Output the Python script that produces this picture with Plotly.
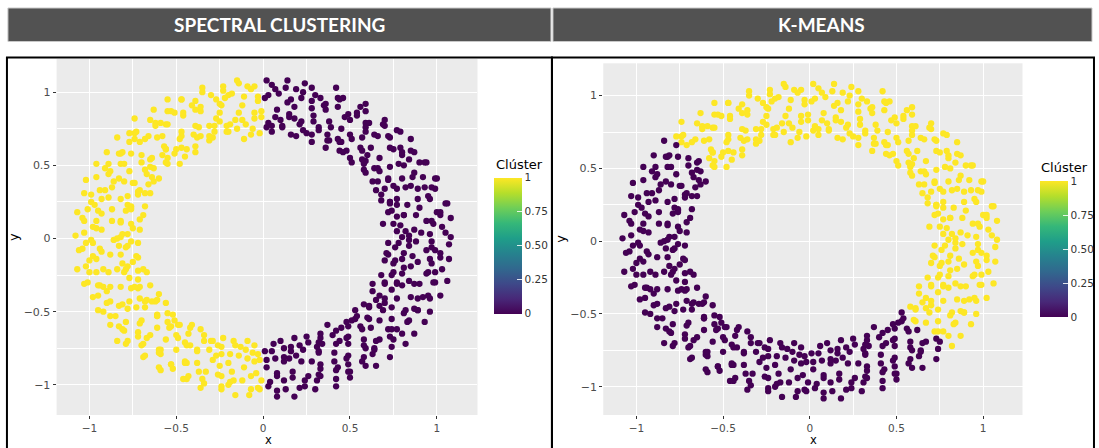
import plotly.graph_objects as go

# ---------------- data (same points in both panels) ----------------
X = [
    1.08, 0.97, 0.96, 0.84, 0.84, 0.72,
    1.05, 1.03, 0.91, 0.87, 0.80, 0.77,
    1.08, 0.98, 0.97, 0.82, 0.79, 0.75,
    1.02, 1.00, 0.94, 0.88, 0.77, 0.69,
    1.05, 1.02, 0.90, 0.81, 0.81, 0.74,
    1.06, 0.96, 0.95, 0.83, 0.73, 0.72,
    0.99, 0.97, 0.89, 0.77, 0.77, 0.73,
    0.99, 0.89, 0.93, 0.82, 0.73, 0.68,
    1.00, 0.92, 0.85, 0.77, 0.75, 0.65,
    0.93, 0.86, 0.87, 0.80, 0.70, 0.68,
    0.94, 0.90, 0.78, 0.72, 0.72, 0.63,
    0.85, 0.84, 0.81, 0.73, 0.64, 0.66,
    0.87, 0.79, 0.80, 0.66, 0.67, 0.58,
    0.85, 0.80, 0.73, 0.67, 0.58, 0.59,
    0.77, 0.73, 0.75, 0.59, 0.60, 0.58,
    0.79, 0.72, 0.64, 0.62, 0.57, 0.50,
    0.70, 0.70, 0.66, 0.56, 0.57, 0.51,
    0.69, 0.59, 0.59, 0.57, 0.48, 0.44,
    0.59, 0.61, 0.59, 0.50, 0.51, 0.46,
    0.59, 0.54, 0.50, 0.43, 0.45, 0.44,
    0.56, 0.54, 0.49, 0.45, 0.37, 0.36,
    0.46, 0.43, 0.47, 0.38, 0.38, 0.37,
    0.43, 0.44, 0.36, 0.39, 0.32, 0.28,
    0.42, 0.35, 0.36, 0.29, 0.32, 0.28,
    0.30, 0.33, 0.28, 0.29, 0.21, 0.25,
    0.28, 0.23, 0.28, 0.22, 0.23, 0.16,
    0.24, 0.22, 0.18, 0.15, 0.18, 0.19,
    0.13, 0.19, 0.16, 0.15, 0.11, 0.11,
    0.14, 0.09, 0.14, 0.08, 0.10, 0.05,
    0.05, 0.07, 0.03, 0.07, 0.05, 0.02,
    0.02, -0.03, 0.01, -0.01, 0.03, -0.02,
    -0.05, -0.07, -0.03, -0.05, -0.01, -0.06,
    -0.14, -0.09, -0.11, -0.05, -0.10, -0.07,
    -0.15, -0.20, -0.12, -0.14, -0.12, -0.15,
    -0.23, -0.18, -0.22, -0.16, -0.21, -0.11,
    -0.23, -0.27, -0.24, -0.25, -0.19, -0.20,
    -0.35, -0.30, -0.25, -0.25, -0.28, -0.21,
    -0.35, -0.39, -0.36, -0.27, -0.28, -0.31,
    -0.47, -0.39, -0.36, -0.37, -0.31, -0.29,
    -0.47, -0.41, -0.46, -0.39, -0.38, -0.31,
    -0.55, -0.51, -0.46, -0.40, -0.36, -0.39,
    -0.55, -0.53, -0.56, -0.47, -0.47, -0.39,
    -0.63, -0.62, -0.55, -0.48, -0.44, -0.47,
    -0.65, -0.59, -0.62, -0.58, -0.50, -0.45,
    -0.74, -0.66, -0.61, -0.56, -0.56, -0.51,
    -0.74, -0.73, -0.68, -0.57, -0.55, -0.48,
    -0.77, -0.71, -0.74, -0.65, -0.58, -0.56,
    -0.84, -0.77, -0.70, -0.64, -0.65, -0.55,
    -0.82, -0.83, -0.76, -0.70, -0.63, -0.64,
    -0.90, -0.81, -0.82, -0.67, -0.68, -0.60,
    -0.89, -0.91, -0.80, -0.77, -0.66, -0.63,
    -0.96, -0.88, -0.86, -0.74, -0.75, -0.68,
    -0.96, -0.89, -0.83, -0.80, -0.72, -0.65,
    -1.02, -0.94, -0.87, -0.78, -0.71, -0.72,
    -0.99, -0.91, -0.93, -0.82, -0.78, -0.68,
    -1.03, -0.99, -0.89, -0.79, -0.76, -0.76,
    -1.01, -0.97, -0.95, -0.87, -0.76, -0.71,
    -1.07, -0.96, -0.93, -0.82, -0.82, -0.69,
    -1.04, -1.03, -0.96, -0.87, -0.76, -0.75,
    -1.03, -0.98, -0.93, -0.84, -0.81, -0.71,
    -1.08, -0.99, -0.98, -0.82, -0.78, -0.76,
    -1.04, -1.02, -0.94, -0.86, -0.83, -0.72,
    -1.06, -0.96, -0.93, -0.88, -0.79, -0.78,
    -1.02, -1.00, -0.98, -0.82, -0.81, -0.72,
    -1.07, -0.96, -0.92, -0.79, -0.75, -0.73,
    -1.01, -1.00, -0.89, -0.84, -0.78, -0.69,
    -1.03, -0.94, -0.92, -0.80, -0.72, -0.72,
    -0.95, -0.95, -0.88, -0.82, -0.77, -0.67,
    -0.98, -0.88, -0.90, -0.76, -0.72, -0.71,
    -0.92, -0.90, -0.81, -0.77, -0.74, -0.65,
    -0.95, -0.85, -0.83, -0.71, -0.67, -0.60,
    -0.88, -0.88, -0.78, -0.73, -0.68, -0.64,
    -0.83, -0.80, -0.79, -0.68, -0.62, -0.61,
    -0.84, -0.81, -0.71, -0.70, -0.61, -0.56,
    -0.78, -0.72, -0.72, -0.61, -0.61, -0.52,
    -0.79, -0.70, -0.65, -0.61, -0.53, -0.55,
    -0.69, -0.69, -0.67, -0.54, -0.55, -0.49,
    -0.68, -0.59, -0.59, -0.56, -0.48, -0.51,
    -0.59, -0.60, -0.60, -0.49, -0.50, -0.42,
    -0.60, -0.53, -0.50, -0.42, -0.43, -0.41,
    -0.52, -0.53, -0.45, -0.45, -0.44, -0.34,
    -0.44, -0.44, -0.45, -0.38, -0.34, -0.36,
    -0.46, -0.43, -0.38, -0.38, -0.30, -0.29,
    -0.36, -0.33, -0.37, -0.29, -0.31, -0.23,
    -0.34, -0.35, -0.25, -0.27, -0.24, -0.26,
    -0.24, -0.24, -0.26, -0.19, -0.24, -0.17,
    -0.24, -0.20, -0.18, -0.20, -0.13, -0.16,
    -0.16, -0.19, -0.17, -0.09, -0.14, -0.09,
    -0.07, -0.12, -0.07, -0.11, -0.06, -0.10,
    -0.08, -0.03, -0.04, -0.05, -0.02, -0.05,
    -0.02, 0.03, -0.01, 0.02, -0.03, 0.01,
    0.08, 0.04, 0.08, 0.02, 0.05, 0.06,
    0.08, 0.13, 0.08, 0.12, 0.07, 0.12,
    0.18, 0.12, 0.17, 0.12, 0.16, 0.10,
    0.21, 0.24, 0.17, 0.22, 0.15, 0.16,
    0.30, 0.24, 0.26, 0.19, 0.23, 0.18,
    0.31, 0.32, 0.33, 0.28, 0.21, 0.26,
    0.42, 0.33, 0.33, 0.32, 0.32, 0.25,
    0.42, 0.43, 0.42, 0.31, 0.34, 0.32,
    0.50, 0.49, 0.41, 0.41, 0.33, 0.33,
    0.50, 0.49, 0.49, 0.42, 0.44, 0.40,
    0.59, 0.58, 0.48, 0.49, 0.42, 0.37,
    0.65, 0.57, 0.58, 0.48, 0.49, 0.45,
    0.63, 0.64, 0.59, 0.58, 0.49, 0.51,
    0.73, 0.64, 0.67, 0.56, 0.57, 0.48,
    0.74, 0.73, 0.65, 0.62, 0.53, 0.53,
    0.82, 0.75, 0.72, 0.60, 0.61, 0.54,
    0.80, 0.74, 0.77, 0.67, 0.61, 0.61,
    0.87, 0.84, 0.74, 0.67, 0.69, 0.58,
    0.93, 0.83, 0.82, 0.74, 0.65, 0.63,
    0.89, 0.89, 0.81, 0.70, 0.70, 0.67,
    0.96, 0.87, 0.89, 0.77, 0.74, 0.63,
    0.96, 0.95, 0.85, 0.80, 0.70, 0.70,
    1.02, 0.92, 0.90, 0.77, 0.77, 0.68,
    0.99, 0.98, 0.87, 0.84, 0.75, 0.74,
    1.06, 0.95, 0.94, 0.81, 0.80, 0.70,
    1.03, 0.99, 0.89, 0.85, 0.76, 0.75,
    1.07, 0.96, 0.97, 0.81, 0.80, 0.72,
    1.02, 1.02, 0.94, 0.86, 0.84, 0.71,
    1.07, 0.99, 0.97, 0.88, 0.78, 0.76,
]

Y = [
    0.01, -0.02, 0.03, -0.01, 0.02, -0.03,
    0.04, 0.08, 0.04, 0.06, 0.01, 0.05,
    0.14, 0.10, 0.12, 0.05, 0.09, 0.10,
    0.16, 0.18, 0.12, 0.16, 0.15, 0.10,
    0.24, 0.18, 0.21, 0.16, 0.16, 0.19,
    0.24, 0.27, 0.29, 0.23, 0.24, 0.18,
    0.34, 0.35, 0.27, 0.23, 0.27, 0.25,
    0.41, 0.34, 0.35, 0.35, 0.25, 0.26,
    0.41, 0.42, 0.36, 0.34, 0.36, 0.33,
    0.52, 0.42, 0.45, 0.41, 0.34, 0.30,
    0.52, 0.52, 0.51, 0.40, 0.41, 0.39,
    0.60, 0.54, 0.50, 0.49, 0.48, 0.39,
    0.59, 0.62, 0.57, 0.48, 0.46, 0.47,
    0.68, 0.59, 0.62, 0.55, 0.52, 0.45,
    0.74, 0.69, 0.61, 0.53, 0.57, 0.51,
    0.73, 0.70, 0.71, 0.62, 0.54, 0.55,
    0.81, 0.77, 0.70, 0.62, 0.60, 0.52,
    0.78, 0.79, 0.76, 0.69, 0.60, 0.60,
    0.87, 0.79, 0.73, 0.71, 0.68, 0.59,
    0.92, 0.86, 0.81, 0.68, 0.66, 0.66,
    0.90, 0.84, 0.85, 0.75, 0.71, 0.62,
    0.96, 0.90, 0.83, 0.80, 0.67, 0.67,
    0.96, 0.95, 0.88, 0.76, 0.76, 0.71,
    1.03, 0.91, 0.92, 0.80, 0.74, 0.66,
    0.98, 0.96, 0.89, 0.84, 0.78, 0.72,
    1.03, 1.00, 0.94, 0.80, 0.74, 0.71,
    1.06, 0.96, 0.90, 0.85, 0.82, 0.70,
    1.03, 1.02, 0.95, 0.83, 0.77, 0.76,
    1.08, 0.99, 0.93, 0.88, 0.81, 0.73,
    1.05, 1.02, 0.98, 0.83, 0.77, 0.76,
    1.08, 0.97, 0.96, 0.87, 0.79, 0.72,
    1.04, 1.02, 0.94, 0.82, 0.83, 0.75,
    1.06, 1.04, 0.97, 0.86, 0.78, 0.71,
    1.08, 0.98, 0.91, 0.86, 0.81, 0.75,
    1.01, 0.99, 0.96, 0.81, 0.77, 0.68,
    1.04, 0.95, 0.91, 0.86, 0.78, 0.73,
    1.00, 0.98, 0.92, 0.80, 0.73, 0.73,
    1.03, 0.94, 0.87, 0.82, 0.77, 0.67,
    0.95, 0.88, 0.90, 0.76, 0.77, 0.69,
    0.95, 0.91, 0.84, 0.77, 0.69, 0.70,
    0.95, 0.86, 0.86, 0.71, 0.70, 0.63,
    0.87, 0.87, 0.78, 0.73, 0.70, 0.59,
    0.88, 0.79, 0.78, 0.68, 0.61, 0.62,
    0.81, 0.79, 0.77, 0.70, 0.61, 0.56,
    0.82, 0.70, 0.69, 0.61, 0.61, 0.58,
    0.72, 0.73, 0.68, 0.63, 0.55, 0.51,
    0.72, 0.66, 0.68, 0.54, 0.57, 0.52,
    0.69, 0.66, 0.57, 0.55, 0.49, 0.51,
    0.58, 0.58, 0.58, 0.52, 0.48, 0.42,
    0.59, 0.59, 0.51, 0.44, 0.47, 0.41,
    0.51, 0.48, 0.51, 0.46, 0.37, 0.39,
    0.51, 0.46, 0.39, 0.38, 0.38, 0.31,
    0.42, 0.44, 0.41, 0.39, 0.32, 0.31,
    0.40, 0.33, 0.35, 0.29, 0.33, 0.30,
    0.30, 0.33, 0.27, 0.27, 0.23, 0.22,
    0.31, 0.25, 0.28, 0.19, 0.22, 0.21,
    0.20, 0.23, 0.19, 0.20, 0.20, 0.13,
    0.18, 0.12, 0.17, 0.12, 0.11, 0.16,
    0.14, 0.12, 0.07, 0.12, 0.10, 0.07,
    0.04, 0.08, 0.06, 0.00, 0.03, 0.06,
    0.02, -0.01, -0.03, 0.01, 0.03, -0.02,
    -0.07, -0.03, -0.07, -0.01, -0.05, -0.03,
    -0.08, -0.14, -0.09, -0.11, -0.06, -0.05,
    -0.19, -0.15, -0.12, -0.11, -0.17, -0.13,
    -0.21, -0.23, -0.21, -0.21, -0.16, -0.12,
    -0.30, -0.23, -0.23, -0.21, -0.19, -0.21,
    -0.31, -0.32, -0.33, -0.23, -0.28, -0.22,
    -0.39, -0.32, -0.33, -0.33, -0.27, -0.23,
    -0.40, -0.43, -0.36, -0.34, -0.34, -0.33,
    -0.50, -0.44, -0.45, -0.43, -0.33, -0.32,
    -0.49, -0.53, -0.46, -0.41, -0.42, -0.38,
    -0.59, -0.53, -0.48, -0.47, -0.43, -0.43,
    -0.60, -0.63, -0.57, -0.47, -0.43, -0.42,
    -0.70, -0.62, -0.58, -0.56, -0.52, -0.44,
    -0.70, -0.64, -0.67, -0.53, -0.53, -0.52,
    -0.72, -0.73, -0.66, -0.61, -0.60, -0.51,
    -0.81, -0.72, -0.68, -0.61, -0.57, -0.59,
    -0.80, -0.79, -0.76, -0.69, -0.59, -0.56,
    -0.90, -0.78, -0.76, -0.68, -0.66, -0.61,
    -0.88, -0.86, -0.76, -0.73, -0.65, -0.59,
    -0.89, -0.86, -0.85, -0.71, -0.73, -0.66,
    -0.96, -0.85, -0.84, -0.77, -0.70, -0.62,
    -0.96, -0.94, -0.85, -0.76, -0.70, -0.70,
    -1.02, -0.91, -0.91, -0.83, -0.76, -0.68,
    -0.99, -0.96, -0.87, -0.80, -0.74, -0.73,
    -1.03, -0.94, -0.93, -0.79, -0.79, -0.70,
    -1.01, -1.00, -0.91, -0.85, -0.74, -0.73,
    -1.07, -0.98, -0.97, -0.82, -0.80, -0.70,
    -1.03, -0.97, -0.94, -0.88, -0.78, -0.76,
    -1.07, -1.02, -0.92, -0.84, -0.83, -0.73,
    -1.03, -1.01, -0.97, -0.83, -0.79, -0.77,
    -1.08, -0.98, -0.94, -0.88, -0.77, -0.72,
    -1.04, -1.03, -0.92, -0.84, -0.82, -0.75,
    -1.08, -0.97, -0.95, -0.81, -0.77, -0.70,
    -1.02, -0.97, -0.91, -0.84, -0.82, -0.74,
    -1.03, -1.01, -0.94, -0.80, -0.76, -0.68,
    -0.97, -0.93, -0.89, -0.84, -0.73, -0.71,
    -1.01, -0.94, -0.86, -0.78, -0.77, -0.67,
    -0.96, -0.88, -0.90, -0.74, -0.72, -0.71,
    -0.91, -0.91, -0.84, -0.78, -0.68, -0.65,
    -0.95, -0.86, -0.80, -0.72, -0.70, -0.66,
    -0.87, -0.81, -0.82, -0.72, -0.63, -0.59,
    -0.87, -0.84, -0.73, -0.68, -0.67, -0.61,
    -0.79, -0.76, -0.75, -0.69, -0.60, -0.56,
    -0.81, -0.75, -0.69, -0.60, -0.62, -0.57,
    -0.74, -0.67, -0.70, -0.61, -0.55, -0.49,
    -0.72, -0.69, -0.62, -0.54, -0.55, -0.53,
    -0.65, -0.62, -0.62, -0.56, -0.47, -0.46,
    -0.65, -0.56, -0.55, -0.46, -0.49, -0.45,
    -0.57, -0.57, -0.49, -0.47, -0.42, -0.36,
    -0.49, -0.49, -0.51, -0.41, -0.44, -0.39,
    -0.50, -0.48, -0.41, -0.41, -0.35, -0.31,
    -0.41, -0.39, -0.40, -0.32, -0.30, -0.31,
    -0.39, -0.40, -0.31, -0.30, -0.31, -0.25,
    -0.30, -0.30, -0.31, -0.29, -0.23, -0.25,
    -0.29, -0.23, -0.24, -0.20, -0.24, -0.15,
    -0.21, -0.23, -0.16, -0.19, -0.15, -0.17,
    -0.14, -0.14, -0.17, -0.10, -0.14, -0.11,
    -0.13, -0.10, -0.08, -0.12, -0.05, -0.10,
    -0.04, -0.08, -0.06, -0.02, -0.03, -0.06,
]

# cluster labels, one digit per point (groups of six follow the rows above)
SPECTRAL_CLUSTER = (
    "000000 000000 000000 000000 000000 000000 000000 000000 000000 000000 "
    "000000 000000 000000 000000 000000 000000 000000 000000 000000 000000 "
    "000000 000000 000000 000000 000000 000000 000000 000000 000000 000000 "
    "010101 111111 111111 111111 111111 111111 111111 111111 111111 111111 "
    "111111 111111 111111 111111 111111 111111 111111 111111 111111 111111 "
    "111111 111111 111111 111111 111111 111111 111111 111111 111111 111111 "
    "111111 111111 111111 111111 111111 111111 111111 111111 111111 111111 "
    "111111 111111 111111 111111 111111 111111 111111 111111 111111 111111 "
    "111111 111111 111111 111111 111111 111111 111111 111111 111111 111111 "
    "101010 000000 000000 000000 000000 000000 000000 000000 000000 000000 "
    "000000 000000 000000 000000 000000 000000 000000 000000 000000 000000 "
    "000000 000000 000000 000000 000000 000000 000000 000000 000000 000000"
)
KMEANS_CLUSTER = (
    "111111 111111 111111 111111 111111 111111 111111 111111 111111 111111 "
    "111111 111111 111111 111111 111111 111111 111111 111111 111111 111111 "
    "111111 111111 111111 111111 111111 111111 111111 111111 111111 111111 "
    "111111 111111 111111 111111 111111 111111 111111 111111 111111 111111 "
    "111111 111111 111111 111111 111111 111111 111011 000001 000000 000000 "
    "000000 000000 000000 000000 000000 000000 000000 000000 000000 000000 "
    "000000 000000 000000 000000 000000 000000 000000 000000 000000 000000 "
    "000000 000000 000000 000000 000000 000000 000000 000000 000000 000000 "
    "000000 000000 000000 000000 000000 000000 000000 000000 000000 000000 "
    "000000 000000 000000 000000 000000 000000 000000 000000 000000 000000 "
    "000000 000000 000000 000000 000000 000000 101110 111111 111111 111111 "
    "111111 111111 111111 111111 111111 111111 111111 111111 111111 111111"
)
spectral = [int(c) for c in SPECTRAL_CLUSTER if c in "01"]
kmeans = [int(c) for c in KMEANS_CLUSTER if c in "01"]
assert len(X) == len(Y) == len(spectral) == len(kmeans)

PANEL_TITLES = ["SPECTRAL CLUSTERING", "K-MEANS"]
AXIS_TICKS = [-1, -0.5, 0, 0.5, 1]
AXIS_TICK_TEXT = ["\u22121", "\u22120.5", "0", "0.5", "1"]
MINOR_TICKS = [-0.75, -0.25, 0.25, 0.75]
CBAR_TICKS = [0, 0.25, 0.5, 0.75, 1]
CBAR_TICK_TEXT = ["0", "0.25", "0.50", "0.75", "1"]
LEGEND_TITLE = "Cl\u00faster"

# ---------------- layout helpers (pixel -> paper) ----------------
W, H = 1099, 448


def px(x):
    return x / W


def py(y):
    return 1 - y / H


FONT = "DejaVu Sans"
fig = go.Figure()

panels = [
    # x-domain px, y-domain px (top, bottom), x-range, y-range, colorbar (left, top)
    dict(xd=(57, 481), yd=(59, 415), xr=(-1.189, 1.234), yr=(-1.206, 1.2265), cb=(497.7, 177.5)),
    dict(xd=(607.7, 1030), yd=(63.3, 415.0), xr=(-1.191, 1.227), yr=(-1.194, 1.222), cb=(1047.3, 181.0)),
]
CB_LEN = 136
CB_THICK = 28

for i, (labels, p) in enumerate(zip([spectral, kmeans], panels)):
    sfx = "" if i == 0 else "2"
    fig.add_trace(go.Scatter(
        x=X, y=Y, mode="markers",
        xaxis="x" + sfx, yaxis="y" + sfx,
        marker=dict(
            size=6.3, color=labels, colorscale="Viridis", cmin=0, cmax=1,
            line=dict(width=0), showscale=True,
            colorbar=dict(
                x=px(p["cb"][0]), xanchor="left", xpad=0,
                y=py(p["cb"][1]), yanchor="top", ypad=0,
                len=CB_LEN, lenmode="pixels",
                thickness=CB_THICK, thicknessmode="pixels",
                outlinewidth=0,
                tickmode="array", tickvals=CBAR_TICKS, ticktext=CBAR_TICK_TEXT,
                ticks="inside", ticklen=5, tickwidth=1,
                tickcolor="rgba(255,255,255,0.85)",
                tickfont=dict(family=FONT, size=10.5, color="#333333"),
            ),
        ),
        showlegend=False, hoverinfo="skip",
    ))
    axis_common = dict(
        tickmode="array", tickvals=AXIS_TICKS, ticktext=AXIS_TICK_TEXT,
        ticks="outside", ticklen=3, tickwidth=1, tickcolor="#333333",
        showgrid=True, gridcolor="white", gridwidth=1.4,
        zeroline=False, showline=False,
        minor=dict(tickvals=MINOR_TICKS, showgrid=True, gridcolor="white",
                   gridwidth=0.7, ticks=""),
    )
    fig.layout["xaxis" + sfx] = dict(
        domain=[px(p["xd"][0]), px(p["xd"][1])], range=list(p["xr"]),
        anchor="y" + sfx, tickfont=dict(family=FONT, size=10.5, color="#4D4D4D"),
        **axis_common)
    fig.layout["yaxis" + sfx] = dict(
        domain=[py(p["yd"][1]), py(p["yd"][0])], range=list(p["yr"]),
        anchor="x" + sfx, tickfont=dict(family=FONT, size=11, color="#4D4D4D"),
        **axis_common)

shapes = []
annotations = []

# header bars
headers = [(8, 555), (557, 1100)]
for (x0, x1), title in zip(headers, PANEL_TITLES):
    shapes.append(dict(type="rect", xref="paper", yref="paper",
                       x0=px(x0), x1=px(x1), y0=py(41.5), y1=py(8),
                       fillcolor="#525252", line=dict(color="#C8C8C8", width=1),
                       layer="below"))
    annotations.append(dict(text="<b>%s</b>" % title, xref="paper", yref="paper",
                            x=px((x0 + min(x1, 1099)) / 2), y=py(25), showarrow=False,
                            xanchor="center", yanchor="middle",
                            font=dict(family="Lato", size=19, color="white")))

# black frames around the two plots
for x0, x1 in [(7, 556), (556, 1102)]:
    shapes.append(dict(type="rect", xref="paper", yref="paper",
                       x0=px(x0), x1=px(x1), y0=py(452), y1=py(57.5),
                       line=dict(color="black", width=2), fillcolor="rgba(0,0,0,0)",
                       layer="above"))

for p in panels:
    xc = (p["xd"][0] + p["xd"][1]) / 2
    yc = (p["yd"][0] + p["yd"][1]) / 2
    annotations.append(dict(text="x", xref="paper", yref="paper", x=px(xc + 1), y=py(448),
                            showarrow=False, xanchor="center", yanchor="bottom",
                            borderpad=0,
                            font=dict(family=FONT, size=11.5, color="black")))
    annotations.append(dict(text="y", xref="paper", yref="paper", x=px(p["xd"][0] - 43), y=py(yc),
                            showarrow=False, xanchor="center", yanchor="middle", textangle=-90,
                            font=dict(family=FONT, size=13, color="black")))
    # legend title
    annotations.append(dict(text=LEGEND_TITLE, xref="paper", yref="paper",
                            x=px(p["cb"][0] - 0.5), y=py(p["cb"][1] - 4), showarrow=False,
                            xanchor="left", yanchor="bottom",
                            font=dict(family=FONT, size=13, color="black")))
    # left-side tick marks of the colour bar (ggplot draws them on both sides)
    for v in CBAR_TICKS:
        yy = p["cb"][1] + (1 - v) * CB_LEN
        shapes.append(dict(type="line", xref="paper", yref="paper",
                           x0=px(p["cb"][0]), x1=px(p["cb"][0] + 5), y0=py(yy), y1=py(yy),
                           line=dict(color="rgba(255,255,255,0.85)", width=1), layer="above"))

fig.update_layout(
    width=W, height=H, margin=dict(l=0, r=0, t=0, b=0),
    paper_bgcolor="white", plot_bgcolor="#EBEBEB",
    shapes=shapes, annotations=annotations, showlegend=False,
)

fig.write_html("out.html")
